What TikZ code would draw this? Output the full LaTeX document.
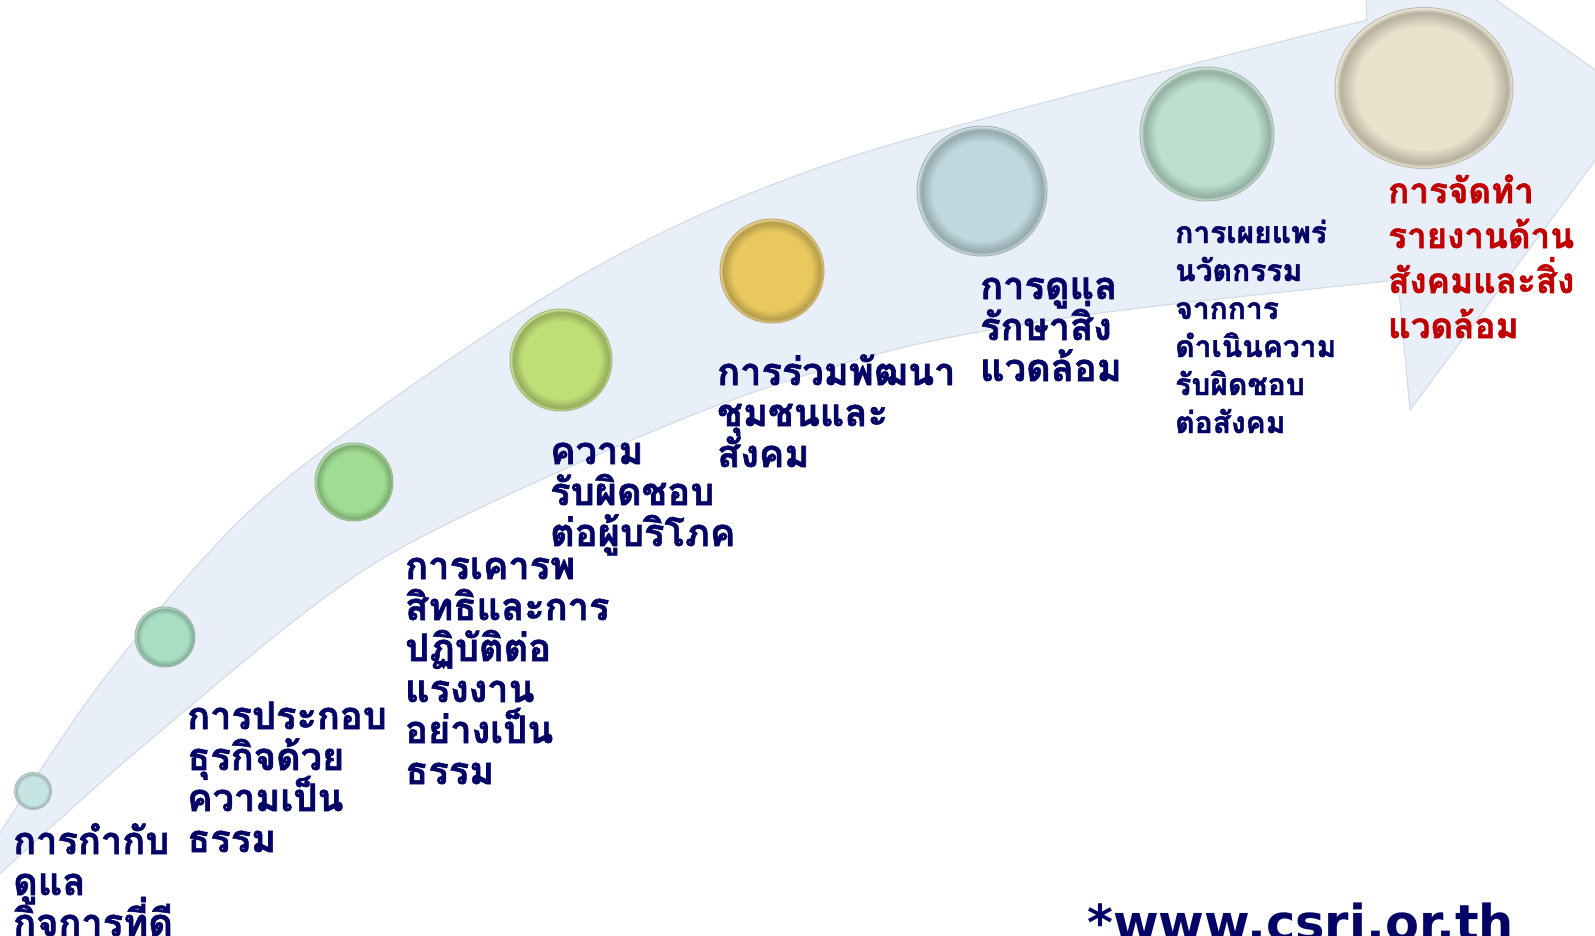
\documentclass[tikz,border=0pt]{standalone}
\usepackage{fontspec}
\usepackage{tikz}
\usetikzlibrary{shapes.geometric}
\newfontfamily\thaifont[Script=Thai, BoldFeatures={FakeBold=1.5}]{Loma}
\newfontfamily\urlfont{DejaVu Sans}
\definecolor{stagenavy}{RGB}{4,4,102}
\definecolor{stagered}{RGB}{192,0,0}
\definecolor{bandfill}{RGB}{232,239,248}
\definecolor{bandedge}{RGB}{212,220,230}
\definecolor{beadA}{RGB}{198,228,228}
\definecolor{beadB}{RGB}{170,222,196}
\definecolor{beadC}{RGB}{160,220,145}
\definecolor{beadD}{RGB}{190,222,118}
\definecolor{beadE}{RGB}{232,200,95}
\definecolor{beadF}{RGB}{190,216,222}
\definecolor{beadG}{RGB}{188,224,206}
\definecolor{beadH}{RGB}{234,226,204}
\colorlet{beadin}{white}
\colorlet{beadout}{gray}
\pgfdeclareradialshading[beadin,beadout]{beadshade}{\pgfpoint{0bp}{0bp}}{color(0bp)=(beadin); color(19bp)=(beadin); color(23.5bp)=(beadout); color(25bp)=(beadin!60!white); color(50bp)=(beadin!60!white)}
\lineskiplimit=-60pt
\begin{document}
\begin{tikzpicture}[x=1pt,y=-1pt]
\tikzset{
  bead/.style={circle, inner sep=0pt, draw=#1!60!gray, line width=1pt,
    /utils/exec={\colorlet{beadin}{#1}\colorlet{beadout}{#1!78!black}}, shading=beadshade},
  stage/.style={anchor=base west, align=left, inner sep=0pt, text=stagenavy,
    font=\thaifont\bfseries\fontsize{38}{41}\selectfont}
}
\useasboundingbox (0,0) rectangle (1595,935);
\begin{scope}
\clip (0,0) rectangle (1595,935);
\filldraw[fill=bandfill, draw=bandedge, line width=1.2pt]
  (-20,865) -- plot[smooth] coordinates {(-20,865) (103,680) (273,490) (573,280) (850,157) (1367,20)}
  -- (1362,-95) -- (1639,101) -- (1410,410) -- (1398,280)
  -- plot[smooth] coordinates {(1398,280) (1100,313) (893,350) (680,420) (380,560) (150,740) (-20,892)} -- cycle;
\end{scope}
\node[bead=beadA, minimum size=37] (b1) at (33,791) {};
\node[bead=beadB, minimum size=60] (b2) at (165,637) {};
\node[bead=beadC, minimum size=78] (b3) at (354,482) {};
\node[bead=beadD, minimum size=102] (b4) at (561,360) {};
\node[bead=beadE, minimum size=104] (b5) at (772,271) {};
\node[bead=beadF, minimum size=130] (b6) at (982,191) {};
\node[bead=beadG, minimum size=134] (b7) at (1207,134) {};
\node[bead=beadH, ellipse, minimum width=178, minimum height=161] (b8) at (1424,88) {};
\node[stage] (s1) at (13,936) {การกำกับ\\ดูแล\\กิจการที่ดี};
\node[stage] (s2) at (187,852) {การประกอบ\\ธุรกิจด้วย\\ความเป็น\\ธรรม};
\node[stage] (s3) at (405,784) {การเคารพ\\สิทธิและการ\\ปฏิบัติต่อ\\แรงงาน\\อย่างเป็น\\ธรรม};
\node[stage] (s4) at (550,546) {ความ\\รับผิดชอบ\\ต่อผู้บริโภค};
\node[stage] (s5) at (717,467) {การร่วมพัฒนา\\ชุมชนและ\\สังคม};
\node[stage] (s6) at (980,381) {การดูแล\\รักษาสิ่ง\\แวดล้อม};
\node[stage, font=\thaifont\bfseries\fontsize{30}{38}\selectfont] (s7) at (1175,433) {การเผยแพร่\\นวัตกรรม\\จากการ\\ดำเนินความ\\รับผิดชอบ\\ต่อสังคม};
\node[stage, text=stagered, font=\thaifont\bfseries\fontsize{35}{45}\selectfont] (s8) at (1388,338) {การจัดทำ\\รายงานด้าน\\สังคมและสิ่ง\\แวดล้อม};
\node[anchor=base west, inner sep=0pt, text=stagenavy, font=\urlfont\bfseries\fontsize{49.5}{50}\selectfont] (url) at (1087,940) {*www.csri.or.th};
\end{tikzpicture}
\end{document}
